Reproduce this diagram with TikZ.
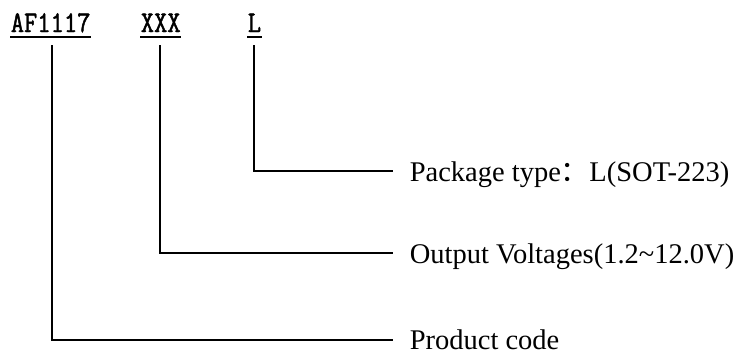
\documentclass[tikz,border=0pt]{standalone}
\usepackage{fontspec}
\setmainfont{Liberation Serif}
\newfontfamily\partfont[FakeStretch=0.86,FakeBold=1.5]{Latin Modern Mono}
\newfontfamily\cjk{Noto Sans CJK SC}
\usetikzlibrary{calc}

\begin{document}
\begin{tikzpicture}[x=1pt,y=-1pt,line width=1.6pt]
\useasboundingbox (0,0) rectangle (748,354);
\begin{scope}[every node/.style={inner sep=0pt,anchor=base west,font=\partfont\fontsize{30}{30}\selectfont}]
    \node (A) at (10,32) {AF1117};
    \node (B) at (140,32) {XXX};
    \node (C) at (247,32) {L};
\end{scope}
\begin{scope}[every node/.style={inner sep=0pt,anchor=base west,font=\fontsize{28.5}{28.5}\selectfont}]
    \node (P) at (409,181) {Package type{\cjk ：}L(SOT-223)};
    \node (V) at (409,263) {Output Voltages(1.2\textasciitilde 12.0V)};
    \node (D) at (409,349) {Product code};
\end{scope}
\begin{scope}
    % underlines
    \draw ([yshift=-5pt]A.base west) -- ([yshift=-5pt]A.base east);
    \draw ([yshift=-5pt]B.base west) -- ([yshift=-5pt]B.base east);
    \draw ([yshift=-5pt]C.base west) -- ([yshift=-5pt]C.base east);
    % leaders
    \draw (254,45) |- ($(P.base west)+(-16,-10)$);
    \draw (160,45) |- ($(V.base west)+(-16,-10)$);
    \draw (52,45) |- ($(D.base west)+(-16,-9)$);
\end{scope}
\end{tikzpicture}
\end{document}
